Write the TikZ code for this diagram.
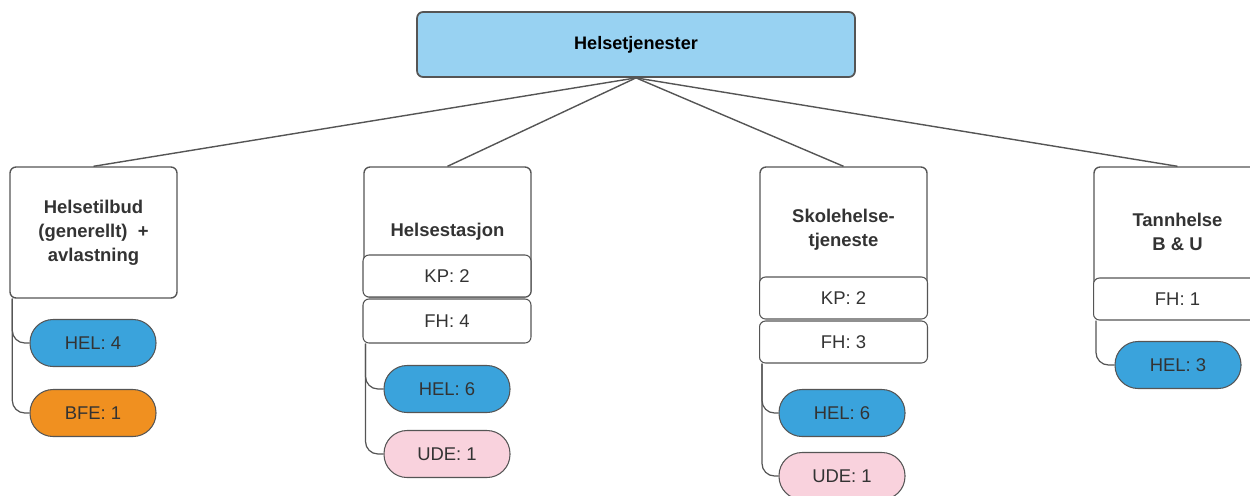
\documentclass[tikz,border=0pt]{standalone}
\usepackage{fontspec}
\setmainfont{Liberation Sans}
\usetikzlibrary{positioning}

\definecolor{topblue}{RGB}{152,210,242}
\definecolor{pillblue}{RGB}{58,163,220}
\definecolor{pillorange}{RGB}{240,144,32}
\definecolor{pillpink}{RGB}{249,210,221}
\definecolor{edge}{RGB}{85,85,85}
\definecolor{ink}{RGB}{51,51,51}

\tikzset{
  unitbox/.style={draw=edge,line width=0.8pt,rounded corners=0.12cm,fill=white,
    minimum width=3.34cm,align=center,text=ink,font=\bfseries\fontsize{10.5}{13.6}\selectfont},
  countbox/.style={draw=edge,line width=0.6pt,rounded corners=0.12cm,fill=white,
    minimum width=3.36cm,minimum height=0.86cm,text=ink,font=\fontsize{10.5}{12}\selectfont},
  pill/.style={draw=edge,line width=0.6pt,rounded corners=0.46cm,
    minimum width=2.52cm,minimum height=0.94cm,text=ink,font=\fontsize{10.5}{12}\selectfont},
  link/.style={draw=edge,line width=0.8pt},
  branch/.style={draw=edge,line width=0.7pt,rounded corners=0.25cm}
}

\providecommand{\Pill}[4]{
\node[pill,fill=#4] (#1) at (#2) {#3};
}

\begin{document}
\begin{tikzpicture}[x=0.02cm,y=-0.02cm]
\useasboundingbox (0,0) rectangle (1250,495);
\begin{scope}
\clip (0,0) rectangle (1250,495);

% top
\node[draw=edge,line width=1pt,rounded corners=0.12cm,fill=topblue,
  minimum width=8.76cm,minimum height=1.3cm,font=\bfseries\fontsize{10.3}{12}\selectfont] (top) at (636,44.5) {Helsetjenester};

% units
\node[unitbox,minimum height=2.62cm] (tilbud) at (93.5,232.5) {Helsetilbud\\(generellt)~~+\\avlastning};
\node[unitbox,minimum height=2.6cm] (stasjon) at (447.5,232) {Helsestasjon};
\node[unitbox,minimum height=2.52cm] (skole) at (843.5,230) {Skolehelse-\\tjeneste};
\node[unitbox,minimum height=2.58cm] (tann) at (1177.5,231.5) {Tannhelse\\B \& U};

\draw[link] (top.south) -- (tilbud.north);
\draw[link] (top.south) -- (stasjon.north);
\draw[link] (top.south) -- (skole.north);
\draw[link] (top.south) -- (tann.north);

% counts
\node[countbox,minimum height=0.84cm] (kp2) at (447,276) {KP: 2};
\node[countbox,minimum height=0.88cm] (fh2) at (447,321) {FH: 4};
\node[countbox,minimum height=0.84cm] (kp3) at (843.5,298) {KP: 2};
\node[countbox,minimum height=0.84cm] (fh3) at (843.5,342) {FH: 3};
\node[countbox,minimum height=0.84cm] (fh4) at (1177.5,299) {FH: 1};

% pills
\Pill{hel1}{93,343}{HEL: 4}{pillblue}
\Pill{bfe1}{93,413}{BFE: 1}{pillorange}
\Pill{hel2}{447,389}{HEL: 6}{pillblue}
\Pill{ude2}{447,454}{UDE: 1}{pillpink}
\Pill{hel3}{842,413}{HEL: 6}{pillblue}
\Pill{ude3}{842,476}{UDE: 1}{pillpink}
\Pill{hel4}{1178,365}{HEL: 3}{pillblue}

% branches
\coordinate[right=0.06cm of tilbud.south west] (s1);
\coordinate[right=0.06cm of fh2.south west] (s2);
\coordinate[right=0.06cm of fh3.south west] (s3);
\coordinate[right=0.06cm of fh4.south west] (s4);
\draw[branch] (s1) |- (hel1.west);
\draw[branch] (s1) |- (bfe1.west);
\draw[branch] (s2) |- (hel2.west);
\draw[branch] (s2) |- (ude2.west);
\draw[branch] (s3) |- (hel3.west);
\draw[branch] (s3) |- (ude3.west);
\draw[branch] (s4) |- (hel4.west);
\end{scope}
\end{tikzpicture}
\end{document}
